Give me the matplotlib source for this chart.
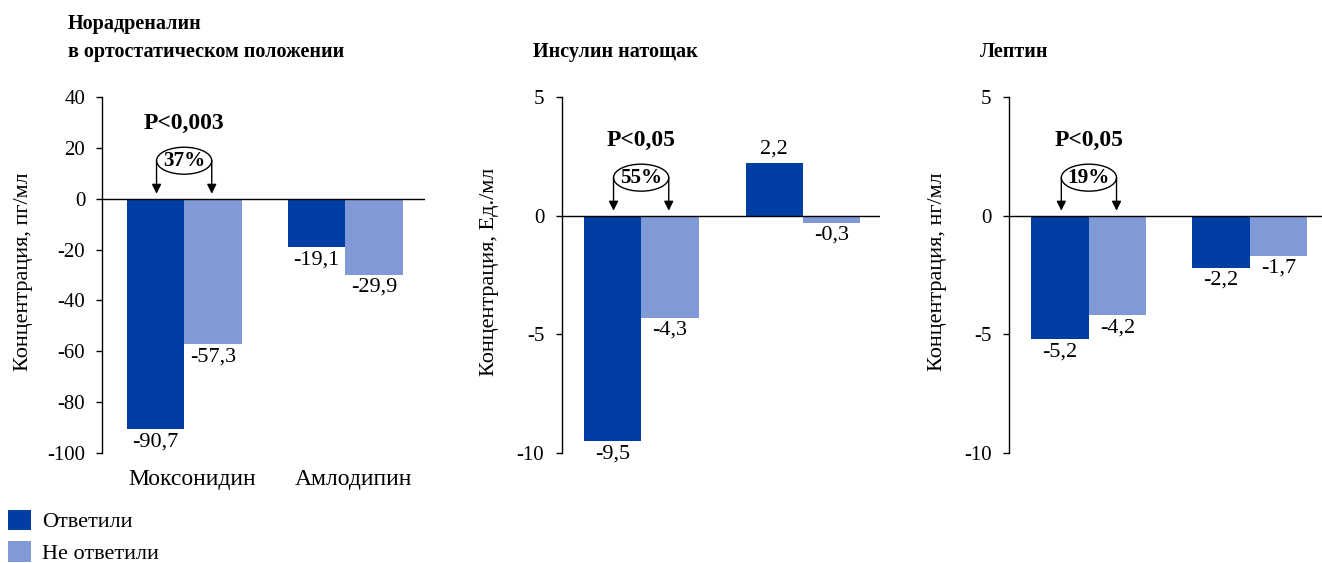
import matplotlib
matplotlib.use("Agg")
import matplotlib.pyplot as plt
from matplotlib.patches import Ellipse, Patch

plt.rcParams['font.family'] = ['Liberation Serif', 'DejaVu Serif']
plt.rcParams['axes.unicode_minus'] = False

# ---------------- data ----------------
groups = ["Моксонидин", "Амлодипин"]
series_names = ["Ответили", "Не ответили"]
colors = ["#003ea4", "#7f9ad6"]

titles = [["Норадреналин", "в ортостатическом положении"],
          ["Инсулин натощак"],
          ["Лептин"]]
ylabels = ["Концентрация, пг/мл", "Концентрация, Ед./мл", "Концентрация, нг/мл"]

responders = [[-90.7, -19.1], [-9.5, 2.2], [-5.2, -2.2]]
nonresponders = [[-57.3, -29.9], [-4.3, -0.3], [-4.2, -1.7]]

p_labels = ["P<0,003", "P<0,05", "P<0,05"]
pct_labels = ["37%", "55%", "19%"]

yticks = [[40, 20, 0, -20, -40, -60, -80, -100], [5, 0, -5, -10], [5, 0, -5, -10]]
ylims = [(-100, 40), (-10, 5), (-10, 5)]

# ---------------- layout ----------------
W, H = 1322, 563
fig = plt.figure(figsize=(W / 100, H / 100), dpi=100)

ax_px = [(102.5, 425), (561.5, 880), (1009, 1322)]
top_px, bot_px = 97, 453
group_pos = [[1.42, 4.22], [1.385, 4.2], [1.39, 4.19]]
ylabel_x = [-0.215, -0.195, -0.197]
title_x = [68, 533, 980]

for i in range(3):
    l, r = ax_px[i]
    ax = fig.add_axes([l / W, 1 - bot_px / H, (r - l) / W, (bot_px - top_px) / H])
    bw = 57.5
    xmax = (r - l) / bw
    ax.set_xlim(0, xmax)
    ax.set_ylim(*ylims[i])
    yr = ylims[i][1] - ylims[i][0]
    pxu = (bot_px - top_px) / yr  # pixels per unit

    gp = group_pos[i]
    xd = [g - 0.5 for g in gp]
    xl = [g + 0.5 for g in gp]
    ax.bar(xd, responders[i], width=1.0, color=colors[0], label=series_names[0])
    ax.bar(xl, nonresponders[i], width=1.0, color=colors[1], label=series_names[1])

    # value labels
    for xs, vals in ((xd, responders[i]), (xl, nonresponders[i])):
        for x, v in zip(xs, vals):
            s = f"{v:.1f}".replace('.', ',')
            if v < 0:
                ax.annotate(s, (x, v), xytext=(0, -3), textcoords='offset pixels',
                            ha='center', va='top', fontsize=16)
            else:
                ax.annotate(s, (x, v), xytext=(0, 5), textcoords='offset pixels',
                            ha='center', va='bottom', fontsize=16)

    # zero line
    ax.axhline(0, color='black', lw=1.0, zorder=3)

    for sp in ('top', 'right', 'bottom'):
        ax.spines[sp].set_visible(False)
    ax.spines['left'].set_linewidth(1.0)
    ax.set_yticks(yticks[i])
    ax.tick_params(axis='y', length=4.5, width=1.0, labelsize=15, pad=8)
    ax.set_xticks([])
    ax.set_ylabel(ylabels[i], fontsize=16)
    ax.yaxis.set_label_coords(ylabel_x[i], 0.51)

    # annotation: P label, ellipse and arrows
    c = gp[0]
    ey = 38 / pxu
    ax.text(c, 75 / pxu, p_labels[i], ha='center', va='center',
            fontsize=17, fontweight='bold')
    ax.add_patch(Ellipse((c, ey), width=0.96, height=27 / pxu, facecolor='white',
                         edgecolor='black', lw=1.0, zorder=4))
    ax.text(c, ey, pct_labels[i], ha='center', va='center', fontsize=15.2,
            fontweight='bold', zorder=5)
    for x in (c - 0.48, c + 0.48):
        ax.annotate('', xy=(x, 5 / pxu), xytext=(x, ey),
                    arrowprops=dict(arrowstyle='-|>', color='black', lw=1.0,
                                    mutation_scale=14, shrinkA=0, shrinkB=0),
                    zorder=5)

    if i == 0:
        for g, name in zip(gp, groups):
            ax.text(g + 0.14, ylims[i][0] - 26 / pxu, name, ha='center', va='center',
                    fontsize=17)

    # titles
    t = titles[i]
    if len(t) == 2:
        fig.text(title_x[i] / W, 1 - 24 / H, t[0], fontsize=14.5, fontweight='bold',
                 ha='left', va='center')
        fig.text(title_x[i] / W, 1 - 52 / H, t[1], fontsize=14.5, fontweight='bold',
                 ha='left', va='center')
    else:
        fig.text(title_x[i] / W, 1 - 52 / H, t[0], fontsize=14.5, fontweight='bold',
                 ha='left', va='center')

handles = [Patch(facecolor=colors[0]), Patch(facecolor=colors[1])]
fig.legend(handles, series_names, loc='lower left', bbox_to_anchor=(8 / W, -1 / H),
           frameon=False, fontsize=16, handlelength=1.03, handleheight=1.03,
           handletextpad=0.5, labelspacing=0.4, borderpad=0, borderaxespad=0)

fig.savefig("out.png", dpi=100)
